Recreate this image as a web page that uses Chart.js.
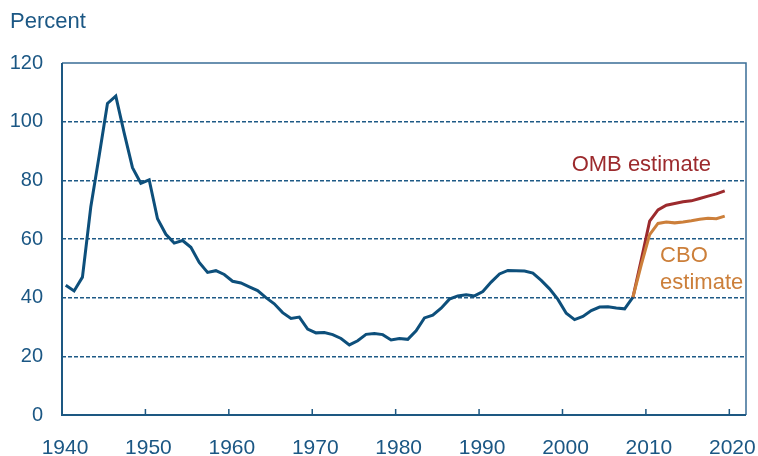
<!DOCTYPE html>
<html>
<head>
<meta charset="utf-8">
<script src="https://cdn.jsdelivr.net/npm/chart.js@4.4.1/dist/chart.umd.min.js"></script>
<style>
  html, body { margin: 0; padding: 0; background: #fff; }
</style>
</head>
<body>
<canvas id="myChart" width="758" height="456"></canvas>
<script>
// dette publique en % du PIB

const years = [1940, 1941, 1942, 1943, 1944, 1945, 1946, 1947, 1948, 1949,
  1950, 1951, 1952, 1953, 1954, 1955, 1956, 1957, 1958, 1959,
  1960, 1961, 1962, 1963, 1964, 1965, 1966, 1967, 1968, 1969,
  1970, 1971, 1972, 1973, 1974, 1975, 1976, 1977, 1978, 1979,
  1980, 1981, 1982, 1983, 1984, 1985, 1986, 1987, 1988, 1989,
  1990, 1991, 1992, 1993, 1994, 1995, 1996, 1997, 1998, 1999,
  2000, 2001, 2002, 2003, 2004, 2005, 2006, 2007, 2008];
const actual = [44.2, 42.3, 47.0, 70.9, 88.3, 106.2, 108.7, 96.2, 84.3, 79.0,
  80.2, 66.9, 61.6, 58.6, 59.5, 57.2, 52.0, 48.6, 49.2, 47.9,
  45.6, 45.0, 43.7, 42.4, 40.0, 37.9, 34.9, 32.9, 33.4, 29.3,
  28.0, 28.1, 27.4, 26.1, 23.9, 25.3, 27.5, 27.8, 27.4, 25.6,
  26.1, 25.8, 28.7, 33.1, 34.0, 36.4, 39.5, 40.6, 41.0, 40.6,
  42.1, 45.3, 48.1, 49.3, 49.2, 49.1, 48.4, 45.9, 43.0, 39.4,
  34.7, 32.5, 33.6, 35.6, 36.8, 36.9, 36.5, 36.2, 40.2];

const projYears = [2008, 2009, 2010, 2011, 2012, 2013, 2014, 2015, 2016, 2017, 2018, 2019];
const omb = [40.2, 53.0, 66.1, 69.9, 71.5, 72.1, 72.7, 73.0, 73.8, 74.6, 75.4, 76.4];
const cbo = [40.2, 51.3, 61.5, 65.3, 65.8, 65.5, 65.8, 66.2, 66.7, 67.1, 66.9, 67.8];

const yTicks = [0, 20, 40, 60, 80, 100, 120];
const xTicks = [1940, 1950, 1960, 1970, 1980, 1990, 2000, 2010, 2020];

const BLEU = "#0d4f7b";
const ROUGE = "#9c2a2d";
const ORANGE = "#cc7f3a";
const TEXTE = "#1b5784";

// points placés au milieu de l'année fiscale
const decal = 0.45;
const pts = (xs, ys) => xs.map((x, i) => ({ x: x + decal, y: ys[i] }));

const cadre = {
  id: "cadre",
  beforeDatasetsDraw(chart) {
    const { ctx, chartArea: a, scales } = chart;
    ctx.save();
    ctx.strokeStyle = "#3a6e96";
    ctx.lineWidth = 1.5;
    ctx.beginPath();
    ctx.moveTo(a.left, a.top);
    ctx.lineTo(a.right, a.top);
    ctx.lineTo(a.right, a.bottom);
    ctx.stroke();
    ctx.strokeStyle = "#1d5882";
    ctx.lineWidth = 2;
    ctx.beginPath();
    ctx.moveTo(a.left, a.top);
    ctx.lineTo(a.left, a.bottom);
    ctx.lineTo(a.right, a.bottom);
    ctx.stroke();
    // petites graduations vers l'intérieur
    ctx.lineWidth = 1.5;
    ctx.beginPath();
    xTicks.slice(1).forEach((v) => {
      const px = scales.x.getPixelForValue(v);
      ctx.moveTo(px, a.bottom);
      ctx.lineTo(px, a.bottom - 6);
    });
    ctx.stroke();
    ctx.restore();
  },
  afterDraw(chart) {
    const { ctx, scales } = chart;
    ctx.save();
    ctx.textAlign = "left";
    ctx.textBaseline = "alphabetic";
    ctx.font = "22px 'Liberation Sans', Arial, sans-serif";
    ctx.fillStyle = TEXTE;
    ctx.fillText("Percent", 10, 28);
    ctx.fillStyle = ROUGE;
    ctx.fillText("OMB estimate", scales.x.getPixelForValue(2001.1), scales.y.getPixelForValue(83.1));
    ctx.fillStyle = ORANGE;
    ctx.fillText("CBO", scales.x.getPixelForValue(2011.7), scales.y.getPixelForValue(52.1));
    ctx.fillText("estimate", scales.x.getPixelForValue(2011.7), scales.y.getPixelForValue(43.0));
    ctx.restore();
  },
};

const data = {
  datasets: [
    {
      label: "CBO",
      data: pts(projYears, cbo),
      borderColor: ORANGE,
      borderWidth: 3,
      pointRadius: 0,
      tension: 0,
      order: 1,
    },
    {
      label: "OMB",
      data: pts(projYears, omb),
      borderColor: ROUGE,
      borderWidth: 3,
      pointRadius: 0,
      tension: 0,
      order: 2,
    },
    {
      label: "actual",
      data: pts(years, actual),
      borderColor: BLEU,
      borderWidth: 3,
      pointRadius: 0,
      tension: 0,
      order: 3,
    },
  ],
};

const config = {
  type: "line",
  data: data,
  options: {
    responsive: false,
    animation: false,
    layout: { padding: { top: 63, right: 12, left: 0, bottom: 0 } },
    plugins: { legend: { display: false }, tooltip: { enabled: false } },
    scales: {
      x: {
        type: "linear",
        min: 1940,
        max: 2022,
        afterFit: (s) => {
          s.height = 41;
          s.paddingLeft = 0;
          s.paddingRight = 0;
        },
        afterBuildTicks: (s) => { s.ticks = xTicks.map((v) => ({ value: v })); },
        grid: { display: false },
        border: { display: false },
        ticks: {
          color: TEXTE,
          font: { family: "'Liberation Sans', Arial, sans-serif", size: 21 },
          padding: 13,
          labelOffset: 3,
          maxRotation: 0,
          autoSkip: false,
          callback: (v) => String(v),
        },
      },
      y: {
        min: 0,
        max: 120,
        afterFit: (s) => {
          s.width = 62;
          s.paddingTop = 0;
          s.paddingBottom = 0;
        },
        afterBuildTicks: (s) => { s.ticks = yTicks.map((v) => ({ value: v })); },
        grid: {
          drawTicks: false,
          lineWidth: 1.5,
          color: (c) => (c.tick && (c.tick.value === 0 || c.tick.value === 120) ? "rgba(0,0,0,0)" : "#1e5a86"),
        },
        border: { display: false, dash: [4, 2] },
        ticks: {
          color: TEXTE,
          font: { family: "'Liberation Sans', Arial, sans-serif", size: 20 },
          padding: 19,
          callback: (v) => String(v),
        },
      },
    },
  },
  plugins: [cadre],
};

const myChart = new Chart(document.getElementById("myChart"), config);
</script>
</body>
</html>
